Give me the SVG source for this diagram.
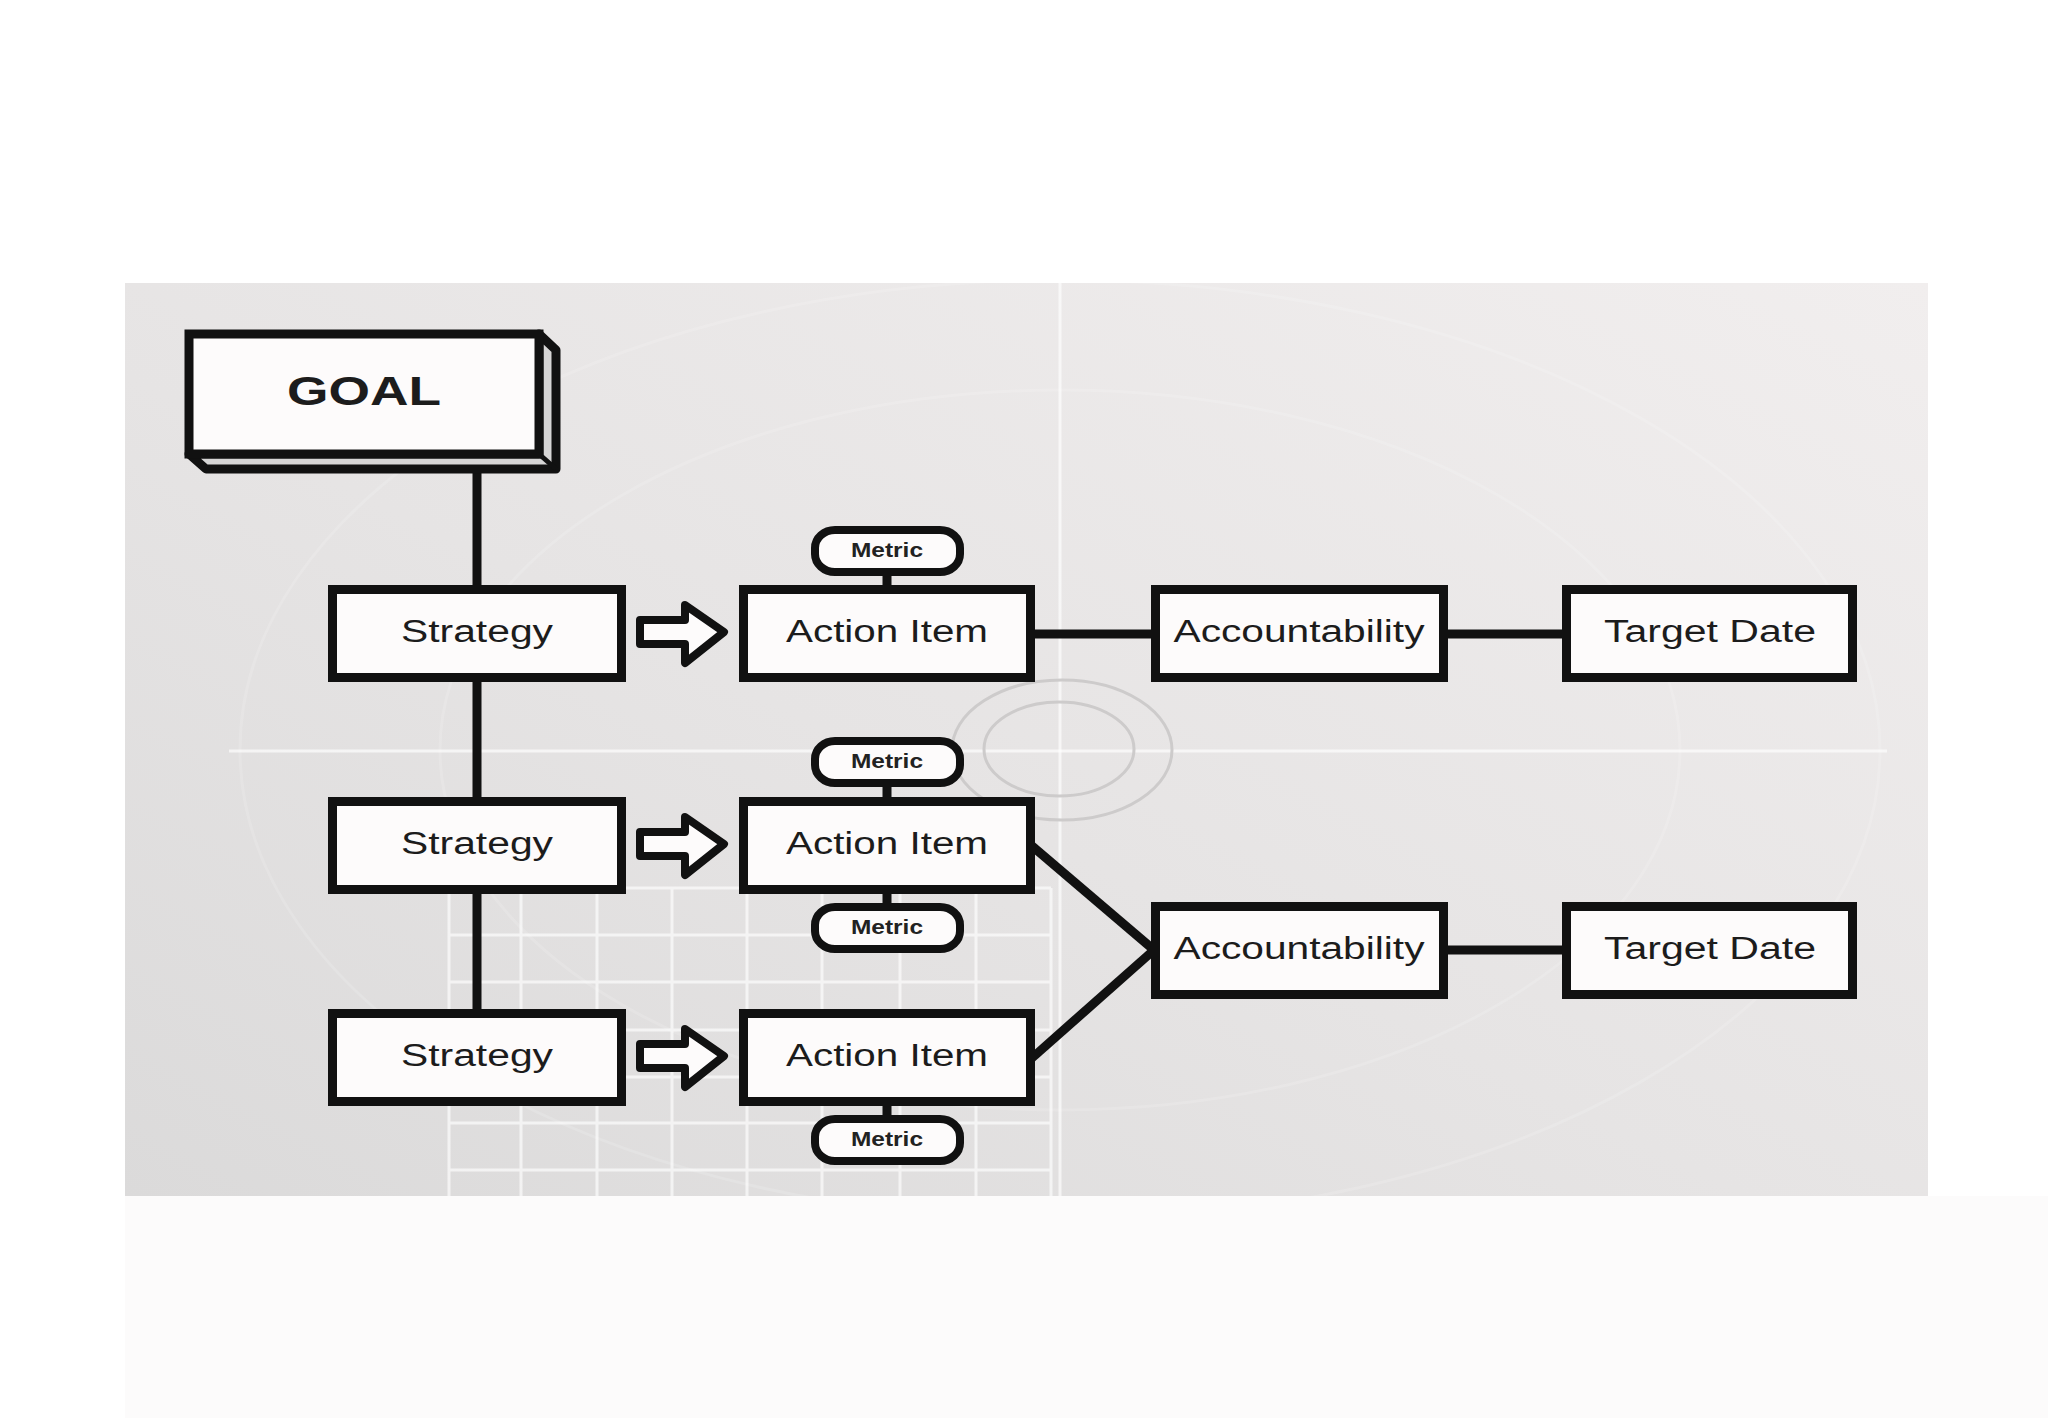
<svg xmlns="http://www.w3.org/2000/svg" width="2048" height="1418" viewBox="0 0 2048 1418">
  <defs>
    <linearGradient id="bg" x1="0" y1="1" x2="1" y2="0">
      <stop offset="0" stop-color="#dbdada"/>
      <stop offset="0.45" stop-color="#e6e4e4"/>
      <stop offset="1" stop-color="#f1eeee"/>
    </linearGradient>
    <style>
      .box { fill: #fdfbfb; stroke: #111; stroke-width: 9; }
      .cap { fill: #fdfbfb; stroke: #111; stroke-width: 8; }
      .lbl { font-family: "Liberation Sans", Arial, sans-serif; font-size: 31px; fill: #1c1c1c; text-anchor: middle; }
      .met { font-family: "Liberation Sans", Arial, sans-serif; font-size: 20px; font-weight: bold; fill: #222; text-anchor: middle; }
      .goal { font-family: "Liberation Sans", Arial, sans-serif; font-size: 40px; font-weight: bold; fill: #1c1c1c; text-anchor: middle; }
      .conn { stroke: #111; stroke-width: 9; fill: none; }
      .arrow { fill: #fdfbfb; stroke: #111; stroke-width: 8; stroke-linejoin: round; }
      .grid { stroke: #ffffff; stroke-width: 3; opacity: 0.65; fill: none; }
      .ring { stroke: #cdcbcb; stroke-width: 3; fill: none; }
      .faint { stroke: #ffffff; stroke-width: 3; fill: none; opacity: 0.15; }
    </style>
  </defs>

  <!-- page -->
  <rect x="0" y="0" width="2048" height="1418" fill="#ffffff"/>
  <rect x="125" y="1196" width="1923" height="222" fill="#fcfbfb"/>

  <!-- background panel -->
  <g id="background">
    <rect x="125" y="283" width="1803" height="913" fill="url(#bg)"/>
    <ellipse class="faint" cx="1060" cy="750" rx="820" ry="470"/>
    <ellipse class="faint" cx="1060" cy="750" rx="620" ry="360"/>
    <line class="grid" x1="1060" y1="283" x2="1060" y2="1196"/>
    <line class="grid" x1="229" y1="751" x2="1887" y2="751"/>
    <g class="grid">
      <line x1="449" y1="888" x2="449" y2="1196"/>
      <line x1="521" y1="888" x2="521" y2="1196"/>
      <line x1="597" y1="888" x2="597" y2="1196"/>
      <line x1="672" y1="888" x2="672" y2="1196"/>
      <line x1="747" y1="888" x2="747" y2="1196"/>
      <line x1="822" y1="888" x2="822" y2="1196"/>
      <line x1="900" y1="888" x2="900" y2="1196"/>
      <line x1="976" y1="888" x2="976" y2="1196"/>
      <line x1="1051" y1="888" x2="1051" y2="1196"/>
      <line x1="449" y1="888" x2="1051" y2="888"/>
      <line x1="449" y1="935" x2="1051" y2="935"/>
      <line x1="449" y1="982" x2="1051" y2="982"/>
      <line x1="449" y1="1030" x2="1051" y2="1030"/>
      <line x1="449" y1="1077" x2="1051" y2="1077"/>
      <line x1="449" y1="1123" x2="1051" y2="1123"/>
      <line x1="449" y1="1170" x2="1051" y2="1170"/>
    </g>
    <ellipse class="ring" cx="1062" cy="750" rx="110" ry="70"/>
    <ellipse class="ring" cx="1059" cy="749" rx="75" ry="47"/>
  </g>

  <!-- connectors -->
  <g id="connectors">
    <line class="conn" x1="477" y1="466" x2="477" y2="1012"/>
    <line class="conn" x1="1034" y1="634" x2="1152" y2="634"/>
    <line class="conn" x1="1447" y1="634" x2="1563" y2="634"/>
    <line class="conn" x1="1447" y1="950" x2="1563" y2="950"/>
    <line class="conn" x1="1032" y1="846" x2="1154" y2="950"/>
    <line class="conn" x1="1032" y1="1058" x2="1154" y2="950"/>
    <line class="conn" x1="887" y1="574" x2="887" y2="588"/>
    <line class="conn" x1="887" y1="785" x2="887" y2="800"/>
    <line class="conn" x1="887" y1="890" x2="887" y2="905"/>
    <line class="conn" x1="887" y1="1102" x2="887" y2="1117"/>
    <path class="arrow" d="M640 620 H685 V605 L724 632 L685 663 V644 H640 Z"/>
    <path class="arrow" d="M640 832 H685 V817 L724 844 L685 875 V856 H640 Z"/>
    <path class="arrow" d="M640 1044 H685 V1029 L724 1056 L685 1087 V1068 H640 Z"/>
  </g>

  <!-- GOAL -->
  <g id="goal">
    <path d="M539 334 L556 350 V469 H206 L189 454 H539 Z" fill="#d6d5d5" stroke="#111" stroke-width="9" stroke-linejoin="round"/>
    <line x1="539" y1="454" x2="556" y2="469" stroke="#111" stroke-width="5"/>
    <rect class="box" x="189" y="334" width="350" height="120"/>
    <text class="goal" x="364" y="405" textLength="154" lengthAdjust="spacingAndGlyphs">GOAL</text>
  </g>

  <!-- Strategies -->
  <g id="strategy1">
    <rect class="box" x="332.5" y="589.5" width="289" height="88"/>
    <text class="lbl" x="477" y="642" textLength="152" lengthAdjust="spacingAndGlyphs">Strategy</text>
  </g>
  <g id="strategy2">
    <rect class="box" x="332.5" y="801.5" width="289" height="88"/>
    <text class="lbl" x="477" y="854" textLength="152" lengthAdjust="spacingAndGlyphs">Strategy</text>
  </g>
  <g id="strategy3">
    <rect class="box" x="332.5" y="1013.5" width="289" height="88"/>
    <text class="lbl" x="477" y="1066" textLength="152" lengthAdjust="spacingAndGlyphs">Strategy</text>
  </g>

  <!-- Action Items -->
  <g id="action1">
    <rect class="box" x="743.5" y="589.5" width="287" height="88"/>
    <text class="lbl" x="887" y="642" textLength="202" lengthAdjust="spacingAndGlyphs">Action Item</text>
  </g>
  <g id="action2">
    <rect class="box" x="743.5" y="801.5" width="287" height="88"/>
    <text class="lbl" x="887" y="854" textLength="202" lengthAdjust="spacingAndGlyphs">Action Item</text>
  </g>
  <g id="action3">
    <rect class="box" x="743.5" y="1013.5" width="287" height="88"/>
    <text class="lbl" x="887" y="1066" textLength="202" lengthAdjust="spacingAndGlyphs">Action Item</text>
  </g>

  <!-- Metrics -->
  <g id="metric1">
    <rect class="cap" x="815" y="530" width="145" height="42" rx="20" ry="18"/>
    <text class="met" x="887" y="557" textLength="72" lengthAdjust="spacingAndGlyphs">Metric</text>
  </g>
  <g id="metric2">
    <rect class="cap" x="815" y="741" width="145" height="42" rx="20" ry="18"/>
    <text class="met" x="887" y="768" textLength="72" lengthAdjust="spacingAndGlyphs">Metric</text>
  </g>
  <g id="metric3">
    <rect class="cap" x="815" y="907" width="145" height="42" rx="20" ry="18"/>
    <text class="met" x="887" y="934" textLength="72" lengthAdjust="spacingAndGlyphs">Metric</text>
  </g>
  <g id="metric4">
    <rect class="cap" x="815" y="1119" width="145" height="42" rx="20" ry="18"/>
    <text class="met" x="887" y="1146" textLength="72" lengthAdjust="spacingAndGlyphs">Metric</text>
  </g>

  <!-- Accountability -->
  <g id="accountability1">
    <rect class="box" x="1155.5" y="589.5" width="288" height="88"/>
    <text class="lbl" x="1299" y="642" textLength="251" lengthAdjust="spacingAndGlyphs">Accountability</text>
  </g>
  <g id="accountability2">
    <rect class="box" x="1155.5" y="906.5" width="288" height="88"/>
    <text class="lbl" x="1299" y="959" textLength="251" lengthAdjust="spacingAndGlyphs">Accountability</text>
  </g>

  <!-- Target Dates -->
  <g id="target1">
    <rect class="box" x="1566.5" y="589.5" width="286" height="88"/>
    <text class="lbl" x="1710" y="642" textLength="212" lengthAdjust="spacingAndGlyphs">Target Date</text>
  </g>
  <g id="target2">
    <rect class="box" x="1566.5" y="906.5" width="286" height="88"/>
    <text class="lbl" x="1710" y="959" textLength="212" lengthAdjust="spacingAndGlyphs">Target Date</text>
  </g>
</svg>
